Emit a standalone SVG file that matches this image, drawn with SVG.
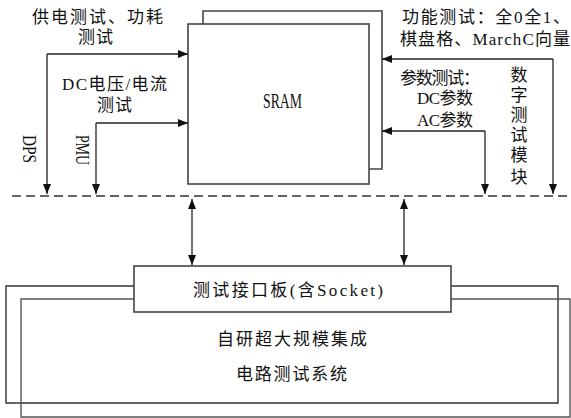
<svg xmlns="http://www.w3.org/2000/svg" width="571" height="418" viewBox="0 0 571 418">
<style>
.t{font-family:"Liberation Serif","Noto Sans CJK SC",serif;font-size:17px;fill:#111}
.ln{fill:none;stroke:#222;stroke-width:1.3}
.bx{fill:#fff;stroke:#444;stroke-width:1.6}
.lp{fill:none;stroke:#333;stroke-width:1.4}
</style>
<defs>
<marker id="ah" viewBox="0 0 10 8" refX="10" refY="4" markerWidth="10" markerHeight="8" markerUnits="userSpaceOnUse" orient="auto-start-reverse">
<path d="M0,0 L10,4 L0,8 Z" fill="#111"/>
</marker>
</defs>
<rect width="571" height="418" fill="#fff"/>
<g id="system">
<path class="lp" d="M135,286 H6 V403 H558 V286 H451"/>
<path class="lp" d="M135,299 H21 V417 H570 V299 H451" style="stroke:#555"/>
<text class="t" x="217" y="345" textLength="150">自研超大规模集成</text>
<text class="t" x="236" y="380" textLength="111">电路测试系统</text>
</g>
<g id="board">
<rect class="bx" x="134" y="266" width="317" height="46"/>
<text class="t" x="193" y="296" textLength="190">测试接口板(含Socket)</text>
</g>
<g id="sram">
<path class="bx" d="M203,24 V11 H382 V169 H369"/>
<rect class="bx" x="188" y="24" width="181" height="160"/>
<text class="t" x="263" y="108" style="font-size:21px" textLength="39" lengthAdjust="spacingAndGlyphs">SRAM</text>
</g>
<g id="labels">
<text class="t" x="32" y="23" textLength="131">供电测试、功耗</text>
<text class="t" x="78" y="43" textLength="35">测试</text>
<text class="t" x="62" y="90" textLength="105">DC电压/电流</text>
<text class="t" x="97" y="111" textLength="35">测试</text>
<text class="t" transform="translate(23,135) rotate(90)" style="font-size:18px" textLength="28" lengthAdjust="spacingAndGlyphs">DPS</text>
<text class="t" transform="translate(76,135) rotate(90)" style="font-size:18px" textLength="30" lengthAdjust="spacingAndGlyphs">PMU</text>
<text class="t" x="402" y="23" textLength="168">功能测试：全0全1、</text>
<text class="t" x="400" y="45" textLength="170">棋盘格、MarchC向量</text>
<text class="t" x="400" y="84" textLength="80">参数测试：</text>
<text class="t" x="417" y="104" textLength="56">DC参数</text>
<text class="t" x="417" y="126" textLength="56">AC参数</text>
<g class="t" text-anchor="middle">
<text x="519" y="81">数</text>
<text x="519" y="101">字</text>
<text x="519" y="121">测</text>
<text x="519" y="141">试</text>
<text x="519" y="161">模</text>
<text x="519" y="183">块</text>
</g>
</g>
<g id="connectors">
<line x1="12" y1="196" x2="571" y2="196" stroke="#333" stroke-width="1.3" stroke-dasharray="9,5"/>
<path class="ln" d="M47,54 H188" marker-end="url(#ah)"/>
<path class="ln" d="M47,54 V194" marker-end="url(#ah)"/>
<path class="ln" d="M96,123 H188" marker-end="url(#ah)"/>
<path class="ln" d="M96,123 V194" marker-end="url(#ah)"/>
<path class="ln" d="M553,59 H382" marker-end="url(#ah)"/>
<path class="ln" d="M553,59 V194" marker-end="url(#ah)"/>
<path class="ln" d="M485,131 H382" marker-end="url(#ah)"/>
<path class="ln" d="M485,131 V194" marker-end="url(#ah)"/>
<path class="ln" d="M192,199 V265" marker-start="url(#ah)" marker-end="url(#ah)"/>
<path class="ln" d="M404,199 V265" marker-start="url(#ah)" marker-end="url(#ah)"/>
</g>
</svg>
